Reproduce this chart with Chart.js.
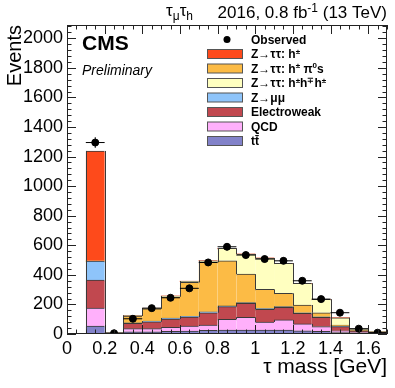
<!DOCTYPE html>
<html>
<head>
<meta charset="utf-8">
<script src="https://cdn.jsdelivr.net/npm/chart.js@4.4.1/dist/chart.umd.min.js"></script>
<style>
html,body{margin:0;padding:0;background:#fff}
#wrap{width:395px;height:388px}
</style>
</head>
<body>
<div id="wrap"><canvas id="tauMass"></canvas></div>
<script>
// tau mass bins, width 0.1 GeV
const binCenters = [0.05,0.15,0.25,0.35,0.45,0.55,0.65,0.75,0.85,0.95,1.05,1.15,1.25,1.35,1.45,1.55,1.65];
const observed   = [null,1295,5,103,175,245,309,484,590,534,507,495,360,236,144,36,9];

// stacked backgrounds, bottom to top
const ttbar       = [0,54,2,15,15,18,20,24,26,27,26,26,22,18,10,5,3];
const qcd         = [0,122,2,21,21,27,34,37,73,86,55,69,46,32,12,5,3];
const electroweak = [0,189,3,36,47,56,61,83,86,94,86,85,72,63,28,8,4];
const zmumu       = [0,128,1,3,4,7,5,6,5,5,5,5,4,3,2,1,1];
const zttPi0      = [0,0,1,47,84,144,229,335,305,193,130,90,52,28,9,5,2];
const ztt3prong   = [0,0,0,3,3,5,8,10,84,136,212,203,146,90,49,8,5];
const ztt1prong   = [0,745,1,0,0,0,0,0,0,0,0,0,0,0,0,0,0];

const xTicks = [0,0.2,0.4,0.6,0.8,1.0,1.2,1.4,1.6];
const legendOrder = ['Z→ττ: h^{±}', 'Z→ττ: h^{±} π^{0}s', 'Z→ττ: h^{±}h^{∓}h^{±}', 'Z→μμ', 'Electroweak', 'QCD', 'tt̄'];

const FONT = '"Liberation Sans", Arial, Helvetica, sans-serif';
Chart.defaults.font.family = FONT;
Chart.defaults.color = '#000';

function pts(arr){
  return binCenters.map((c,i) => ({x:c, y:arr[i]}));
}

function bars(label, data, color){
  return {
    type:'bar', label:label, data:pts(data), backgroundColor:color,
    borderColor:'#3a3a3a', borderWidth:{top:1,left:0,right:0,bottom:0}, borderSkipped:false,
    barPercentage:1, categoryPercentage:1, stack:'bkg', order:1
  };
}

// text with ^{} and _{} pieces
function richParts(str){
  const out = [];
  const re = /([\^_])\{([^}]*)\}/g;
  let last = 0, m;
  while((m = re.exec(str))){
    if(m.index > last) out.push({t:str.slice(last,m.index), k:''});
    out.push({t:m[2], k:m[1]});
    last = re.lastIndex;
  }
  if(last < str.length) out.push({t:str.slice(last), k:''});
  return out;
}

function drawRich(ctx, str, x, y, size, weight, align){
  const ps = richParts(str);
  const fontFor = k => weight + ' ' + (k ? Math.round(size*0.7) : size) + 'px ' + FONT;
  let w = 0;
  ps.forEach(p => { ctx.font = fontFor(p.k); p.w = ctx.measureText(p.t).width; w += p.w; });
  let cx = align === 'right' ? x - w : x;
  ctx.textAlign = 'left';
  ctx.textBaseline = 'alphabetic';
  ps.forEach(p => {
    ctx.font = fontFor(p.k);
    const dy = p.k === '^' ? -size*0.38 : (p.k === '_' ? size*0.25 : 0);
    ctx.fillText(p.t, cx, y + dy);
    cx += p.w;
  });
}

const cmsPlugin = {
  id:'cms',
  afterDatasetsDraw(chart){
    const ctx = chart.ctx, xs = chart.scales.x, ys = chart.scales.y;
    ctx.save();
    ctx.lineWidth = 1;

    // vertical steps of each stacked histogram outline
    ctx.strokeStyle = '#3a3a3a';
    let cum = binCenters.map(() => 0);
    chart.data.datasets.filter(d => d.stack === 'bkg').forEach(d => {
      cum = cum.map((c,i) => c + d.data[i].y);
      ctx.beginPath();
      for(let i=0; i<binCenters.length-1; i++){
        if(cum[i] === cum[i+1]) continue;
        const px = Math.round(xs.getPixelForValue(binCenters[i]+0.05))+0.5;
        ctx.moveTo(px, ys.getPixelForValue(cum[i]));
        ctx.lineTo(px, ys.getPixelForValue(cum[i+1]));
      }
      ctx.stroke();
    });

    // error bars for the observed points
    ctx.strokeStyle = '#000';
    binCenters.forEach((c,i) => {
      const v = observed[i];
      if(v === null) return;
      const py = ys.getPixelForValue(v);
      const px = xs.getPixelForValue(c);
      const err = Math.sqrt(v);
      ctx.beginPath();
      ctx.moveTo(xs.getPixelForValue(c-0.05), py);
      ctx.lineTo(xs.getPixelForValue(c+0.05), py);
      ctx.moveTo(px, ys.getPixelForValue(Math.max(v-err,0)));
      ctx.lineTo(px, ys.getPixelForValue(v+err));
      ctx.stroke();
    });
    ctx.restore();
  },
  afterDraw(chart){
    const ctx = chart.ctx, a = chart.chartArea;
    const xs = chart.scales.x, ys = chart.scales.y;
    ctx.save();
    // frame and inward ticks
    ctx.strokeStyle = '#222';
    ctx.lineWidth = 1;
    ctx.strokeRect(a.left+0.5, a.top+0.5, a.right-a.left-1, a.bottom-a.top-1);
    ctx.beginPath();
    for(let k=0; k<=34; k++){
      const v = k*0.05;
      const px = Math.round(xs.getPixelForValue(v))+0.5;
      const len = (k % 4 === 0) ? 9 : 4.5;
      ctx.moveTo(px, a.bottom); ctx.lineTo(px, a.bottom-len);
      ctx.moveTo(px, a.top); ctx.lineTo(px, a.top+len);
    }
    for(let k=0; k*40<=ys.max; k++){
      const py = Math.round(ys.getPixelForValue(k*40))+0.5;
      const len = (k % 5 === 0) ? 9 : 4.5;
      ctx.moveTo(a.left, py); ctx.lineTo(a.left+len, py);
      ctx.moveTo(a.right, py); ctx.lineTo(a.right-len, py);
    }
    ctx.stroke();

    ctx.fillStyle = '#000';
    // y axis title, right-aligned to the top of the frame
    ctx.save();
    ctx.translate(21, a.top);
    ctx.rotate(-Math.PI/2);
    ctx.font = '20px ' + FONT;
    ctx.textAlign = 'right';
    ctx.textBaseline = 'alphabetic';
    ctx.fillText('Events', 0, 0);
    ctx.restore();

    // labels
    ctx.font = 'bold 21px ' + FONT;
    ctx.textAlign = 'left';
    ctx.textBaseline = 'alphabetic';
    ctx.fillText('CMS', 82, 50);
    ctx.font = 'italic 14px ' + FONT;
    ctx.fillText('Preliminary', 82, 75);
    drawRich(ctx, '2016, 0.8 fb^{-1} (13 TeV)', 387, 18, 17, 'normal', 'right');
    drawRich(ctx, 'τ_{μ}τ_{h}', 166, 16, 17, 'normal', 'left');

    // legend
    const rowY = [39.5, 54, 68.5, 83, 97.5, 112, 126.5, 141];
    ctx.beginPath();
    ctx.arc(227, rowY[0], 3.5, 0, Math.PI*2);
    ctx.fill();
    drawRich(ctx, 'Observed', 251, rowY[0]+4.3, 12, 'bold', 'left');
    legendOrder.forEach((lab,i) => {
      const d = chart.data.datasets.find(s => s.label === lab);
      const y = rowY[i+1];
      ctx.fillStyle = d.backgroundColor;
      ctx.fillRect(207, y-4.5, 36, 9);
      ctx.strokeStyle = '#555';
      ctx.strokeRect(207.5, y-4.5, 35, 9);
      ctx.fillStyle = '#000';
      drawRich(ctx, lab, 251, y+4.3, 12, 'bold', 'left');
    });
    ctx.restore();
  }
};

new Chart(document.getElementById('tauMass'), {
  data:{
    datasets:[
      {type:'scatter', label:'Observed', data:pts(observed), backgroundColor:'#000', borderColor:'#000',
       pointRadius:3.5, pointHoverRadius:3.5, stack:'obs', order:0},
      bars('tt̄', ttbar, '#8282c9'),
      bars('QCD', qcd, '#ffb0fb'),
      bars('Electroweak', electroweak, '#c1484f'),
      bars('Z→μμ', zmumu, '#8ec4fa'),
      bars('Z→ττ: h^{±} π^{0}s', zttPi0, '#fcbb45'),
      bars('Z→ττ: h^{±}h^{∓}h^{±}', ztt3prong, '#ffffc0'),
      bars('Z→ττ: h^{±}', ztt1prong, '#fe4a1b')
    ]
  },
  options:{
    responsive:true,
    maintainAspectRatio:false,
    animation:false,
    layout:{padding:{top:25, right:8, left:0, bottom:0}},
    plugins:{legend:{display:false}, tooltip:{enabled:false}},
    scales:{
      x:{
        type:'linear', min:0, max:1.7, offset:false, stacked:true,
        grid:{display:false, drawTicks:false}, border:{display:false},
        afterBuildTicks: s => { s.ticks = xTicks.map(v => ({value:v})); },
        ticks:{font:{size:18}, padding:4, maxRotation:0, autoSkip:false,
               callback: v => String(Math.round(v*10)/10)},
        title:{display:true, text:'τ mass [GeV]', align:'end', font:{size:21}, padding:{top:0,bottom:8}},
        afterFit: s => { s.height = 54; }
      },
      y:{
        min:0, max:2090, stacked:true,
        grid:{display:false, drawTicks:false}, border:{display:false},
        ticks:{stepSize:200, includeBounds:false, font:{size:18}, padding:4,
               callback: v => String(v)},
        afterFit: s => { s.width = 67; }
      }
    }
  },
  plugins:[cmsPlugin]
});
</script>
</body>
</html>
